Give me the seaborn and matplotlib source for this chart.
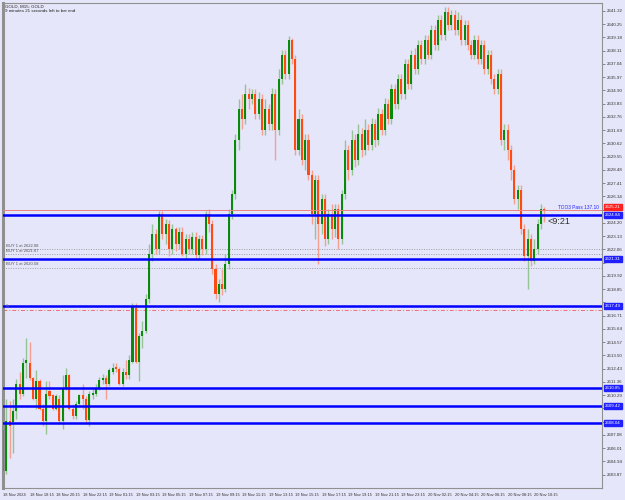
import matplotlib
matplotlib.use("Agg")
import matplotlib.pyplot as plt
import seaborn as sns
import pandas as pd

# M15 candles (18 Nov 16:15 -> 20 Nov 11:00)
opens = [2607.5, 2604.2, 2608.2, 2608.1, 2609.0, 2611.2, 2610.4, 2612.9, 2612.9, 2611.7,
         2610.0, 2611.4, 2609.2, 2608.2, 2610.6, 2610.3, 2609.2, 2610.0, 2608.2, 2610.8,
         2611.9, 2609.2, 2608.6, 2609.6, 2610.3, 2610.0, 2608.3, 2610.3, 2610.4, 2610.8,
         2611.5, 2611.7, 2611.2, 2612.2, 2612.6, 2612.4, 2611.2, 2612.2, 2611.9, 2613.0,
         2617.3, 2613.0, 2615.1, 2615.5, 2618.1, 2621.7, 2623.3, 2622.1, 2624.9, 2623.3,
         2624.1, 2622.1, 2623.7, 2622.5, 2623.5, 2621.7, 2622.9, 2622.1, 2623.1, 2621.6,
         2622.9, 2622.1, 2624.9, 2624.1, 2620.5, 2618.5, 2619.3, 2618.9, 2620.9, 2624.9,
         2626.5, 2630.9, 2633.4, 2632.6, 2634.6, 2634.2, 2634.6, 2633.0, 2634.2, 2631.7,
         2633.4, 2632.2, 2634.6, 2631.7, 2635.8, 2637.8, 2636.2, 2639.0, 2637.4, 2630.1,
         2632.6, 2629.3, 2630.9, 2628.1, 2624.9, 2627.7, 2624.1, 2626.1, 2622.9, 2624.9,
         2623.7, 2625.3, 2622.9, 2626.5, 2630.1, 2628.5, 2630.9, 2629.3, 2631.4, 2630.1,
         2631.7, 2630.5, 2632.2, 2630.9, 2633.0, 2631.7, 2633.8, 2632.6, 2635.0, 2633.8,
         2635.8, 2634.6, 2637.0, 2635.4, 2637.8, 2636.6, 2638.6, 2637.4, 2639.0, 2637.8,
         2639.8, 2638.6, 2640.6, 2639.4, 2641.2, 2640.2, 2641.0, 2639.8, 2640.6, 2639.0,
         2640.2, 2638.6, 2637.8, 2639.0, 2637.4, 2638.6, 2636.6, 2637.8, 2635.8, 2635.0,
         2636.2, 2630.9, 2631.7, 2630.1, 2628.5, 2626.1, 2626.9, 2623.7, 2621.5, 2622.9,
         2621.1, 2622.1, 2624.1, 2625.3]
highs = [2607.6, 2610.0, 2609.8, 2610.0, 2611.6, 2612.2, 2613.3, 2614.9, 2614.6, 2611.8,
         2612.3, 2611.6, 2609.6, 2611.4, 2611.4, 2610.4, 2610.4, 2610.3, 2611.9, 2612.5,
         2612.0, 2609.6, 2609.8, 2610.4, 2611.2, 2610.2, 2610.6, 2610.8, 2611.2, 2611.8,
         2612.0, 2611.9, 2612.5, 2612.9, 2612.9, 2612.6, 2612.5, 2613.1, 2613.5, 2617.7,
         2617.7, 2615.3, 2616.3, 2618.5, 2622.5, 2624.1, 2623.7, 2625.2, 2625.2, 2624.5,
         2624.4, 2624.1, 2623.9, 2623.9, 2623.9, 2623.3, 2623.3, 2623.5, 2623.5, 2623.2,
         2623.2, 2625.2, 2625.3, 2624.4, 2620.9, 2619.7, 2620.5, 2621.7, 2625.3, 2626.9,
         2631.4, 2634.2, 2634.6, 2635.4, 2635.1, 2635.0, 2635.0, 2634.8, 2634.6, 2634.2,
         2633.8, 2635.1, 2635.0, 2636.6, 2638.2, 2638.2, 2639.3, 2639.1, 2637.8, 2633.4,
         2633.0, 2631.4, 2631.4, 2628.5, 2628.1, 2628.1, 2626.5, 2626.5, 2625.3, 2625.7,
         2625.7, 2625.7, 2626.9, 2630.9, 2630.5, 2631.7, 2631.4, 2632.2, 2631.9, 2632.6,
         2632.2, 2632.7, 2632.6, 2633.5, 2633.4, 2634.3, 2634.2, 2635.4, 2635.4, 2636.2,
         2636.2, 2637.4, 2637.4, 2638.2, 2638.3, 2639.0, 2639.0, 2639.4, 2639.4, 2640.2,
         2640.2, 2641.0, 2641.0, 2641.6, 2641.6, 2641.4, 2641.4, 2641.2, 2641.0, 2640.6,
         2640.6, 2639.0, 2639.4, 2639.4, 2639.0, 2639.0, 2638.2, 2638.2, 2636.2, 2636.6,
         2636.6, 2632.2, 2632.2, 2630.5, 2628.9, 2627.3, 2627.3, 2624.1, 2623.7, 2623.3,
         2622.9, 2624.5, 2625.7, 2625.5]
lows = [2604.0, 2603.9, 2605.2, 2605.6, 2608.4, 2610.0, 2610.2, 2611.7, 2611.5, 2609.9,
        2609.2, 2609.1, 2607.8, 2607.2, 2610.0, 2609.1, 2609.1, 2608.0, 2607.6, 2610.7,
        2609.1, 2608.4, 2608.4, 2609.5, 2609.2, 2608.0, 2607.8, 2610.0, 2610.2, 2610.7,
        2611.2, 2610.0, 2611.0, 2612.0, 2612.2, 2611.1, 2611.0, 2611.6, 2611.6, 2612.9,
        2612.9, 2611.4, 2614.1, 2615.3, 2617.7, 2621.1, 2621.7, 2621.7, 2622.9, 2622.5,
        2621.5, 2621.7, 2621.9, 2622.1, 2621.5, 2621.3, 2621.7, 2621.7, 2621.3, 2621.3,
        2621.6, 2621.7, 2623.5, 2620.1, 2618.1, 2617.8, 2618.4, 2618.6, 2620.5, 2624.5,
        2626.1, 2630.1, 2631.8, 2632.2, 2633.4, 2633.8, 2632.6, 2632.6, 2631.3, 2631.3,
        2631.7, 2631.7, 2629.3, 2631.3, 2635.4, 2635.8, 2635.8, 2637.0, 2629.7, 2629.7,
        2628.9, 2628.5, 2627.7, 2624.1, 2622.9, 2620.9, 2623.3, 2622.3, 2622.5, 2622.9,
        2623.1, 2622.1, 2622.5, 2626.1, 2627.7, 2628.1, 2628.7, 2628.9, 2629.5, 2629.7,
        2630.1, 2630.1, 2630.3, 2630.5, 2631.3, 2631.3, 2632.2, 2632.2, 2633.4, 2633.4,
        2634.2, 2634.2, 2635.0, 2635.0, 2636.2, 2636.2, 2637.0, 2637.0, 2637.4, 2637.4,
        2638.2, 2638.2, 2639.0, 2639.0, 2639.8, 2639.8, 2639.4, 2639.4, 2638.6, 2638.6,
        2638.2, 2637.4, 2637.4, 2637.0, 2637.0, 2636.2, 2636.2, 2635.4, 2634.6, 2634.6,
        2630.5, 2630.1, 2629.3, 2627.7, 2625.7, 2625.3, 2623.3, 2621.1, 2618.9, 2620.7,
        2620.9, 2621.7, 2623.7, 2624.3]
closes = [2604.2, 2608.2, 2607.8, 2609.0, 2611.2, 2610.4, 2612.9, 2613.1, 2611.7, 2610.0,
          2611.4, 2609.2, 2608.2, 2610.4, 2610.2, 2609.2, 2610.2, 2608.2, 2610.8, 2611.9,
          2609.2, 2608.6, 2609.6, 2610.3, 2610.0, 2608.3, 2610.4, 2610.5, 2610.8, 2611.5,
          2611.7, 2611.2, 2612.3, 2612.5, 2612.4, 2611.2, 2612.2, 2611.9, 2613.1, 2617.4,
          2613.0, 2615.1, 2615.5, 2618.1, 2621.7, 2623.3, 2622.1, 2624.9, 2623.3, 2624.1,
          2622.1, 2623.7, 2622.5, 2623.5, 2621.7, 2622.9, 2622.1, 2623.1, 2621.6, 2622.9,
          2622.1, 2624.9, 2624.1, 2620.5, 2618.5, 2619.3, 2618.9, 2620.9, 2624.9, 2626.5,
          2630.9, 2633.4, 2632.6, 2634.6, 2634.2, 2634.6, 2633.0, 2634.2, 2631.7, 2633.4,
          2632.2, 2634.6, 2631.7, 2635.8, 2637.8, 2636.2, 2639.0, 2637.4, 2630.1, 2632.6,
          2629.3, 2630.9, 2628.1, 2624.9, 2627.7, 2624.1, 2626.1, 2622.9, 2624.9, 2623.7,
          2625.3, 2622.9, 2626.5, 2630.1, 2628.5, 2630.9, 2629.3, 2631.4, 2630.1, 2631.7,
          2630.5, 2632.2, 2630.9, 2633.0, 2631.7, 2633.8, 2632.6, 2635.0, 2633.8, 2635.8,
          2634.6, 2637.0, 2635.4, 2637.8, 2636.6, 2638.6, 2637.4, 2639.0, 2637.8, 2639.8,
          2638.6, 2640.6, 2639.4, 2641.2, 2640.2, 2641.0, 2639.8, 2640.6, 2639.0, 2640.2,
          2638.6, 2637.8, 2639.0, 2637.4, 2638.6, 2636.6, 2637.8, 2635.8, 2635.0, 2636.2,
          2630.9, 2631.7, 2630.1, 2628.5, 2626.1, 2626.9, 2623.7, 2621.5, 2622.9, 2621.1,
          2622.1, 2624.1, 2625.3, 2625.2]

time_labels = ["18 Nov 2024", "18 Nov 18:15", "18 Nov 20:15", "18 Nov 22:15", "19 Nov 01:15",
               "19 Nov 03:15", "19 Nov 05:15", "19 Nov 07:15", "19 Nov 09:15", "19 Nov 11:15",
               "19 Nov 13:15", "19 Nov 15:15", "19 Nov 17:15", "19 Nov 19:15", "19 Nov 21:15",
               "19 Nov 23:15", "20 Nov 02:15", "20 Nov 04:15", "20 Nov 06:15", "20 Nov 08:15",
               "20 Nov 10:15"]

price_ticks = [2603.87, 2604.94, 2606.01, 2607.08, 2608.15, 2609.22, 2610.29, 2611.36,
               2612.43, 2613.50, 2614.57, 2615.64, 2616.71, 2617.78, 2618.85, 2619.92,
               2620.99, 2622.06, 2623.13, 2624.20, 2625.27, 2626.34, 2627.41, 2628.48,
               2629.55, 2630.62, 2631.69, 2632.76, 2633.83, 2634.90, 2635.97, 2637.04,
               2638.11, 2639.18, 2640.25, 2641.32]

blue_levels = [2624.84, 2621.31, 2617.49, 2610.85, 2609.42, 2608.04]
buy_levels = [2622.08, 2621.67, 2620.58]
bid_price = 2625.21
sl_level = 2617.20

BG = "#e6e6fa"
GREEN = "#0a8a0a"
RED = "#ff4a12"
WICK_G = "#94c494"
WICK_R = "#f4a090"

df = pd.DataFrame({"open": opens, "high": highs, "low": lows, "close": closes})
df["idx"] = range(len(df))
df["up"] = df["close"] >= df["open"]

sns.set_theme(style="white")
plt.rcParams["font.family"] = ["Liberation Sans", "DejaVu Sans"]

fig = plt.figure(figsize=(6.25, 5), dpi=100, facecolor=BG)
ax = fig.add_axes([3 / 625, 12 / 500, 599 / 625, 485 / 500])
ax.set_facecolor(BG)

# wicks
for up, wc in [(True, WICK_G), (False, WICK_R)]:
    d = df[df["up"] == up]
    ax.vlines(d["idx"], d["low"], d["high"], color=wc, lw=1.0, zorder=2)

# bodies
for up, bc in [(True, GREEN), (False, RED)]:
    d = df[df["up"] == up]
    bottom = d[["open", "close"]].min(axis=1)
    height = (d["close"] - d["open"]).abs().clip(lower=0.06)
    ax.bar(d["idx"], height, bottom=bottom, width=0.62, color=bc, lw=0, zorder=3)

# trade levels
for lv in blue_levels:
    ax.axhline(lv, color="#0000ff", lw=1.8, zorder=4)
for lv in buy_levels:
    ax.axhline(lv, color="#a0a0a0", lw=0.7, ls=(0, (1, 1.5)), zorder=1)
    ax.text(0.8, lv + 0.12, f"BUY 1 at {lv:.2f}", fontsize=3.0, color="#505050",
            va="bottom", ha="left", zorder=5)
ax.axhline(bid_price, color="#f08080", lw=0.7, zorder=4)
ax.axhline(sl_level, color="#f07070", lw=0.7, ls=(0, (4, 2, 1, 2)), zorder=1)
ax.text(1.0, sl_level + 0.1, "SL", fontsize=2.6, color="#707070", va="bottom", zorder=5)

ax.text(0.995, bid_price + 0.02, "TOO3 Pass 137.10", transform=ax.get_yaxis_transform(),
        fontsize=3.4, color="#2020ff", ha="right", va="bottom", zorder=6)
ax.text(164, blue_levels[0] - 0.12, "<9:21", fontsize=6.5, color="#303030",
        ha="left", va="top", zorder=6)

# axes
ax.set_xlim(0.54, 180.4)
ax.set_ylim(2602.80, 2641.96)
ax.yaxis.tick_right()
tag_levels = blue_levels + [bid_price]
ax.set_yticks(price_ticks)
ax.set_yticklabels([f"{p:.2f}" if min(abs(p - t) for t in tag_levels) > 0.4 else ""
                    for p in price_ticks], fontsize=3.2, color="#303030")
ax.set_xticks(range(0, 8 * len(time_labels), 8))
ax.set_xticklabels(time_labels, fontsize=2.9, color="#303030", ha="left")
ax.tick_params(axis="both", length=2.5, width=0.5, color="#606060", pad=1.2)
ax.tick_params(axis="x", pad=1.0)
for s in ax.spines.values():
    s.set_color("#909090")
    s.set_linewidth(0.8)
ax.spines["left"].set_linewidth(2.2)

# price tags on the axis
for lv in blue_levels:
    ax.annotate(f"{lv:.2f}", xy=(1.0, lv), xycoords=("axes fraction", "data"),
                xytext=(2, 0), textcoords="offset points", fontsize=3.2, color="white",
                va="center", ha="left", zorder=10, annotation_clip=False,
                bbox=dict(boxstyle="square,pad=0.25", fc="#2020ff", ec="#2020ff"))
ax.annotate(f"{bid_price:.2f}", xy=(1.0, bid_price + 0.25), xycoords=("axes fraction", "data"),
            xytext=(2, 0), textcoords="offset points", fontsize=3.2, color="white",
            va="center", ha="left", zorder=10, annotation_clip=False,
            bbox=dict(boxstyle="square,pad=0.25", fc="#ff2020", ec="#ff2020"))

ax.text(0.004, 0.997, "GOLD, M15: GOLD\n9 minutes 21 seconds left to bar end",
        transform=ax.transAxes, fontsize=3.2, color="#202020", va="top", ha="left",
        linespacing=1.3)

fig.savefig("out.png", dpi=100, facecolor=BG)
